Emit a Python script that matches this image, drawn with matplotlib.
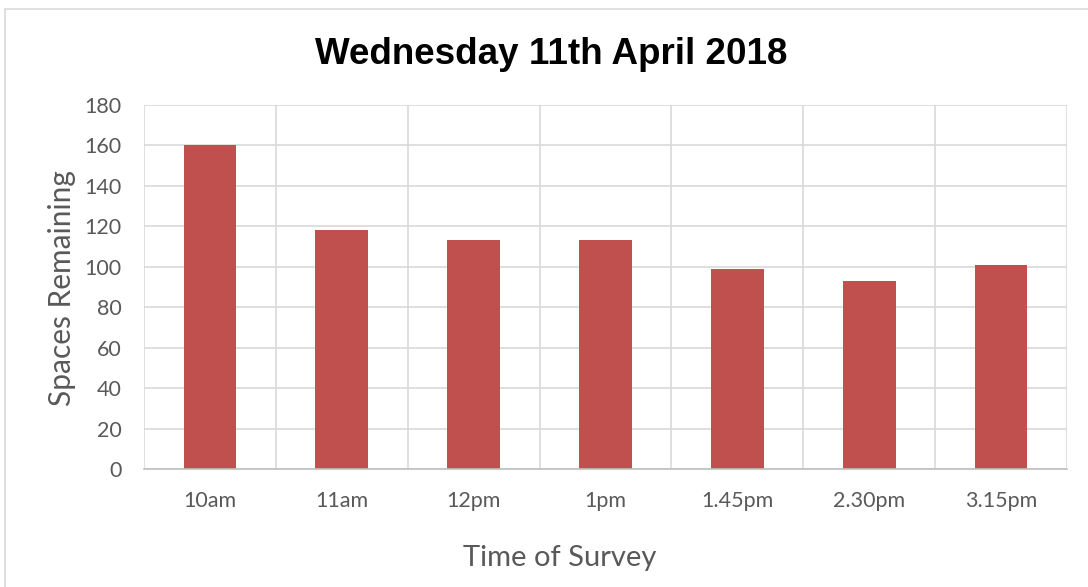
import matplotlib
matplotlib.use("Agg")
from matplotlib import pyplot as plt
from matplotlib.patches import Rectangle

# data
times = ["10am", "11am", "12pm", "1pm", "1.45pm", "2.30pm", "3.15pm"]
spaces = [160, 118, 113, 113, 99, 93, 101]
y_ticks = [0, 20, 40, 60, 80, 100, 120, 140, 160, 180]

BAR = "#C0504D"
GRID = "#D9D9D9"
TXT = "#595959"


def main():
    fig = plt.figure(figsize=(10.88, 5.87), dpi=100)
    fig.patch.set_facecolor("white")

    # chart border (runs off the right/bottom edge in the reference)
    fig.patches.append(Rectangle((5 / 1088, -0.05), 1.2, 0.05 + (587 - 9) / 587,
                                 transform=fig.transFigure, fill=False,
                                 edgecolor=GRID, linewidth=1.2))

    ax = fig.add_axes([144 / 1088, 118 / 587, 923 / 1088, 364 / 587])
    n = len(times)
    xs = list(range(n))
    ax.bar(xs, spaces, width=0.4, color=BAR, zorder=3)

    ax.set_xlim(-0.5, n - 0.5)
    ax.set_ylim(0, 180)
    ax.set_yticks(y_ticks)
    ax.set_xticks(xs)
    ax.set_xticklabels(times)

    # vertical grid at category boundaries, horizontal at ticks
    for b in [i - 0.5 for i in range(n + 1)]:
        ax.axvline(b, color=GRID, linewidth=1.2, zorder=1)
    ax.yaxis.grid(True, color=GRID, linewidth=1.2, zorder=1)
    ax.set_axisbelow(True)

    for s in ["top", "right", "left"]:
        ax.spines[s].set_visible(False)
    ax.spines["bottom"].set_color("#BFBFBF")
    ax.spines["bottom"].set_linewidth(1.2)
    ax.spines["bottom"].set_zorder(4)

    ax.tick_params(axis="both", length=0, labelcolor=TXT, labelsize=15.5)
    ax.tick_params(axis="x", pad=16)
    ax.tick_params(axis="y", pad=16)
    for lab in ax.get_xticklabels() + ax.get_yticklabels():
        lab.set_family("Lato")

    # axis titles placed like the reference (x title sits left of axes centre)
    fig.text(62 / 1088, 1 - 288 / 587, "Spaces Remaining", rotation=90, ha="center", va="center",
             fontsize=21.5, color=TXT, family="Lato")
    fig.text(560 / 1088, 1 - 558 / 587, "Time of Survey", ha="center", va="center",
             fontsize=21, color=TXT, family="Lato")

    fig.text(551 / 1088, 1 - 54 / 587, "Wednesday 11th April 2018", ha="center", va="center",
             fontsize=26.5, fontweight="bold", family="Liberation Sans", color="black")

    fig.savefig("out.png", dpi=100, facecolor="white")


if __name__ == '__main__':
    main()
